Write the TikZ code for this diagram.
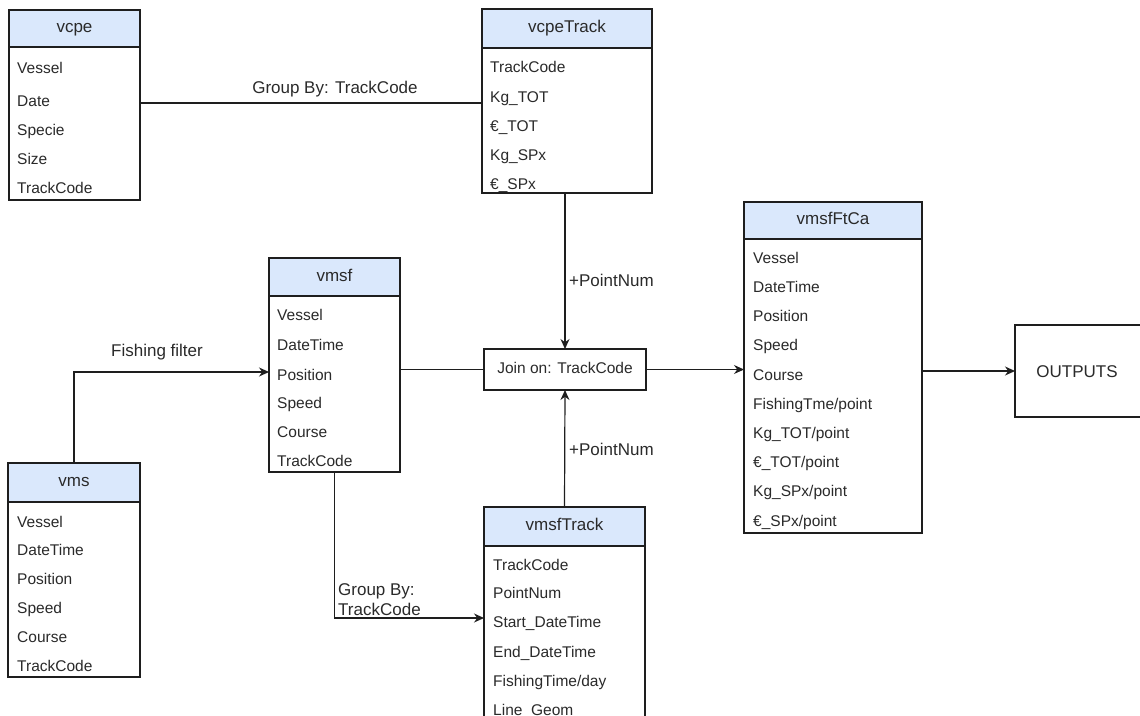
\documentclass[tikz,border=0pt]{standalone}
\usepackage{fontspec}
\setmainfont{Liberation Sans}
\usetikzlibrary{arrows.meta,calc}
\definecolor{hdrblue}{HTML}{DAE8FC}
\definecolor{ink}{HTML}{1E1E1E}
\definecolor{txt}{HTML}{2A2A2A}
\begin{document}
\begin{tikzpicture}[x=1pt,y=-1pt,
  box/.style={draw=ink, line width=1.2pt, anchor=north west, inner sep=0pt, outer sep=0pt},
  hdr/.style={box, fill=hdrblue, text=txt, font=\fontsize{17}{20}\selectfont, text height=12pt, text depth=3.5pt},
  body/.style={box, fill=white},
  row/.style={anchor=west, inner sep=0pt, text=txt, font=\fontsize{15.5}{18}\selectfont, text height=11pt, text depth=0pt},
  lbl/.style={inner sep=0pt, text=txt, font=\fontsize{17}{20}\selectfont},
  conn/.style={draw=ink, line width=1.2pt},
  arr/.style={conn, -{Stealth[length=10pt,width=9pt]}}
]
\useasboundingbox (0,0) rectangle (1140,715);
\clip (0,0) rectangle (1140,715);

% vcpe
\node[body, minimum width=131pt, minimum height=153pt] (vcpeB) at (9,47) {};
\node[hdr, minimum width=131pt, minimum height=37pt] (vcpeH) at (9,10) {vcpe};
\node[row] (vcpe1) at (17,68) {Vessel};
\node[row] (vcpe2) at (17,101) {Date};
\node[row] (vcpe3) at (17,130) {Specie};
\node[row] (vcpe4) at (17,159) {Size};
\node[row] (vcpe5) at (17,188) {TrackCode};

% vcpeTrack
\node[body, minimum width=170pt, minimum height=145pt] (vcpeTB) at (482,48) {};
\node[hdr, minimum width=170pt, minimum height=39pt] (vcpeTH) at (482,9) {vcpeTrack};
\node[row] (vcpeT1) at (490,67) {TrackCode};
\node[row] (vcpeT2) at (490,97) {Kg\_TOT};
\node[row] (vcpeT3) at (490,126) {€\_TOT};
\node[row] (vcpeT4) at (490,155) {Kg\_SPx};
\node[row] (vcpeT5) at (490,184) {€\_SPx};

% vmsf
\node[body, minimum width=131pt, minimum height=176pt] (vmsfB) at (269,296) {};
\node[hdr, minimum width=131pt, minimum height=38pt] (vmsfH) at (269,258) {vmsf};
\node[row] (vmsf1) at (277,315) {Vessel};
\node[row] (vmsf2) at (277,345) {DateTime};
\node[row] (vmsf3) at (277,375) {Position};
\node[row] (vmsf4) at (277,403) {Speed};
\node[row] (vmsf5) at (277,432) {Course};
\node[row] (vmsf6) at (277,461) {TrackCode};

% vms
\node[body, minimum width=132pt, minimum height=175pt] (vmsB) at (8,502) {};
\node[hdr, minimum width=132pt, minimum height=39pt] (vmsH) at (8,463) {vms};
\node[row] (vms1) at (17,522) {Vessel};
\node[row] (vms2) at (17,550) {DateTime};
\node[row] (vms3) at (17,579) {Position};
\node[row] (vms4) at (17,608) {Speed};
\node[row] (vms5) at (17,637) {Course};
\node[row] (vms6) at (17,666) {TrackCode};

% vmsfTrack
\node[body, minimum width=161pt, minimum height=200pt] (vmsfTB) at (484,546) {};
\node[hdr, minimum width=161pt, minimum height=39pt] (vmsfTH) at (484,507) {vmsfTrack};
\node[row] (vmsfT1) at (493,565) {TrackCode};
\node[row] (vmsfT2) at (493,593) {PointNum};
\node[row] (vmsfT3) at (493,622) {Start\_DateTime};
\node[row] (vmsfT4) at (493,652) {End\_DateTime};
\node[row] (vmsfT5) at (493,681) {FishingTime/day};
\node[row] (vmsfT6) at (493,710) {Line\_Geom};

% vmsfFtCa
\node[body, minimum width=178pt, minimum height=294pt] (ftcaB) at (744,239) {};
\node[hdr, minimum width=178pt, minimum height=37pt] (ftcaH) at (744,202) {vmsfFtCa};
\node[row] (ftca1) at (753,258) {Vessel};
\node[row] (ftca2) at (753,287) {DateTime};
\node[row] (ftca3) at (753,316) {Position};
\node[row] (ftca4) at (753,345) {Speed};
\node[row] (ftca5) at (753,375) {Course};
\node[row] (ftca6) at (753,404) {FishingTme/point};
\node[row] (ftca7) at (753,433) {Kg\_TOT/point};
\node[row] (ftca8) at (753,462) {€\_TOT/point};
\node[row] (ftca9) at (753,491) {Kg\_SPx/point};
\node[row] (ftca10) at (753,521) {€\_SPx/point};

% join box
\node[box, fill=white, minimum width=162pt, minimum height=41pt, text=txt,
      font=\fontsize{15.5}{18}\selectfont, text height=11pt, text depth=3pt] (join) at (484,349) {Join on: TrackCode};

% outputs
\node[box, fill=white, minimum width=140pt, minimum height=92pt] (out) at (1015,325) {};
\node[lbl, anchor=center] (outT) at (1077,372) {OUTPUTS};

% connectors
\draw[conn] (vcpeB.east |- 0,103) -- (vcpeTB.west |- 0,103)
  node[lbl, pos=0.57, above=5pt] (gb1) {Group By: TrackCode};
\draw[arr] (vcpeTB.south -| join.north) -- (join.north);
\node[lbl, anchor=west] (pn1) at (569,280) {+PointNum};
\draw[arr] (vmsfTH.north) -- (join.south);
\node[lbl, anchor=west] (pn2) at (569,449) {+PointNum};
\draw[conn] (vmsfB.east |- join.west) -- (join.west);
\draw[arr] (join.east) -- (ftcaB.west |- join.east);
\draw[arr] (ftcaB.east |- out.west) -- (out.west);
\draw[arr] (vmsH.north) |- (vmsfB.west |- 0,372);
\node[lbl] (ff) at (157,352) {Fishing filter};
\draw[arr] (vmsfB.south) |- (vmsfTB.west |- 0,618);
\node[lbl, anchor=south west, align=left] (gb2) at (338,616) {Group By:\\TrackCode};
\end{tikzpicture}
\end{document}
